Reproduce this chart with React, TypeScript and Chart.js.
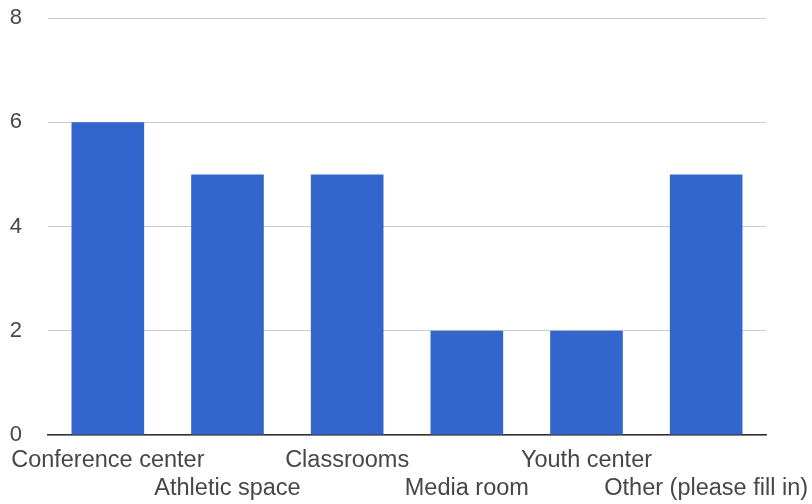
import React, { useEffect, useRef } from "react";
import { Chart, registerables } from "chart.js";

Chart.register(...registerables);

const categories: string[] = [
  "Conference center",
  "Athletic space",
  "Classrooms",
  "Media room",
  "Youth center",
  "Other (please fill in)",
];
const counts: number[] = [6, 5, 5, 2, 2, 5];
const yTicks: number[] = [0, 2, 4, 6, 8];

const FONT = "Arial, 'Liberation Sans', sans-serif";

export default function App() {
  const ref = useRef<HTMLCanvasElement | null>(null);

  useEffect(() => {
    if (!ref.current) return;
    // alternate category labels between two rows so they don't collide
    const staggered = categories.map((c, i) => (i % 2 === 0 ? [c] : ["", c]));
    const chart = new Chart(ref.current, {
      type: "bar",
      data: {
        labels: staggered as any,
        datasets: [
          {
            data: counts,
            backgroundColor: "#3366CC",
            borderWidth: 0,
            barPercentage: 0.607,
            categoryPercentage: 1,
          },
        ],
      },
      options: {
        animation: false,
        responsive: false,
        layout: { padding: { top: 18, right: 46, left: 0, bottom: 0 } },
        plugins: { legend: { display: false }, tooltip: { enabled: false } },
        scales: {
          x: {
            grid: { display: false, drawTicks: false },
            border: { display: true, color: "#333333", width: 1.5 },
            ticks: {
              autoSkip: false,
              maxRotation: 0,
              minRotation: 0,
              padding: 11,
              color: "#474747",
              font: { family: FONT, size: 23.5, lineHeight: 1.22 },
            },
            afterFit: (s: any) => {
              s.height = 504 - 435;
              s.paddingLeft = 0;
              s.paddingRight = 0;
            },
          },
          y: {
            min: 0,
            max: 8,
            afterBuildTicks: (s: any) => {
              s.ticks = yTicks.map((v) => ({ value: v }));
            },
            grid: { color: "#cccccc", lineWidth: 1, drawTicks: false },
            border: { display: false },
            ticks: {
              padding: 26,
              color: "#474747",
              font: { family: FONT, size: 22 },
            },
            afterFit: (s: any) => {
              s.width = 48;
              s.paddingTop = 0;
              s.paddingBottom = 0;
            },
          },
        },
      },
    });
    return () => chart.destroy();
  }, []);

  return (
    <div style={{ position: "absolute", left: 0, top: 0, width: 812, height: 504, background: "#ffffff" }}>
      <canvas ref={ref} width={812} height={504} />
    </div>
  );
}
